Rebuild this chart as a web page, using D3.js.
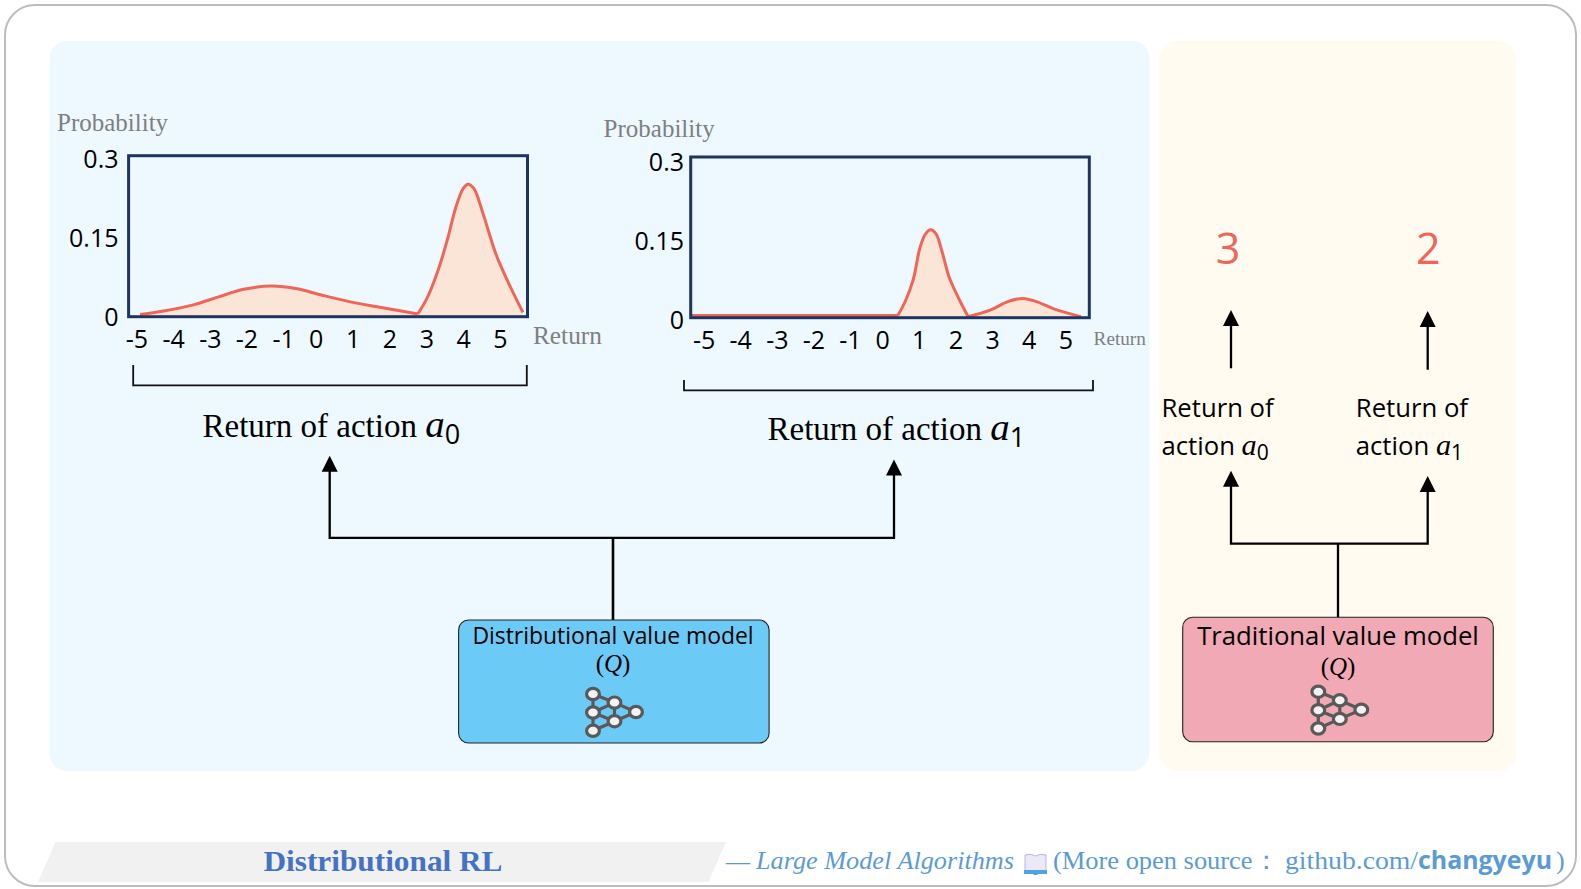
<!DOCTYPE html>
<html><head><meta charset="utf-8">
<script src="https://cdn.jsdelivr.net/npm/d3@7/dist/d3.min.js"></script>
<style>html,body{margin:0;padding:0;background:#fff}svg{display:block}</style>
</head><body><svg id="c" width="1581" height="889"></svg>
<script>
const returnTicks = [-5,-4,-3,-2,-1,0,1,2,3,4,5];
const probTicks = [0,0.15,0.3];
const a0Low = [[-4.9,.004],[-4.21,.011],[-3.43,.022],[-2.74,.037],[-2.05,.051],[-1.27,.057],[-.58,.052],[.11,.04],[.8,.029],[1.58,.019],[2.17,.012],[2.74,.005]];
const a0High = [[2.74,.005],[3.01,.037],[3.3,.087],[3.55,.143],[3.79,.205],[3.99,.239],[4.12,.247],[4.28,.239],[4.53,.193],[4.88,.118],[5.22,.065],[5.63,.008]];
const a1Flat = [[-5.33,.004],[.37,.004]];
const a1High = [[.37,.004],[.59,.033],[.79,.07],[.99,.133],[1.14,.157],[1.27,.164],[1.42,.157],[1.58,.126],[1.78,.077],[2.03,.039],[2.31,.002]];
const a1Low = [[2.31,.002],[2.92,.014],[3.41,.03],[3.83,.036],[4.2,.03],[4.7,.016],[5.43,.002]];
const traditionalValues = ["3","2"];

const svg = d3.select("#c");
const SANS = "'Open Sans'", SERIF = "'Liberation Serif'";
const RED = "#ef6558", NAVY = "#1f3560", GRAY = "#7f7f7f";

svg.append("rect").attr("x",5).attr("y",5).attr("width",1571).attr("height",881).attr("rx",30)
  .attr("fill","#fff").attr("stroke","#bdbdbd").attr("stroke-width",2);
svg.append("rect").attr("x",49.5).attr("y",41).attr("width",1100).attr("height",730).attr("rx",18).attr("fill","#edf9fe");
svg.append("rect").attr("x",1159).attr("y",41).attr("width",357).attr("height",730).attr("rx",18).attr("fill","#fffbf1");

function label(x,y,size,parts,opts={}){
  const t = svg.append("text").attr("x",x).attr("y",y).attr("font-size",size)
    .attr("font-family",opts.family||SANS).attr("fill",opts.fill||"#000")
    .attr("text-anchor",opts.anchor||"start");
  if(opts.width) t.attr("textLength",opts.width).attr("lengthAdjust","spacingAndGlyphs");
  if(opts.weight) t.attr("font-weight",opts.weight);
  if(opts.style) t.attr("font-style",opts.style);
  parts.forEach(p=>{
    const s=t.append("tspan").text(p.t);
    if(p.family) s.attr("font-family",p.family);
    if(p.style) s.attr("font-style",p.style);
    if(p.size) s.attr("font-size",p.size);
    if(p.dy) s.attr("dy",p.dy);
  });
  return t;
}
function actionParts(prefix,sub,size){
  return [{t:prefix},{t:"a",style:"italic",family:SERIF,size:size*1.18},{t:sub,size:size*0.82,dy:size*0.2,family:SANS}];
}

function chart(cfg){
  const g = svg.append("g");
  const x = d3.scaleLinear().domain([-5,5]).range(cfg.xr);
  const y = d3.scaleLinear().domain([0,.3]).range([cfg.y0,cfg.y1]);
  const curve = d3.curveCatmullRom.alpha(0.5);
  const area = d3.area().x(d=>x(d[0])).y0(y(0)).y1(d=>y(d[1])).curve(curve);
  const line = d3.line().x(d=>x(d[0])).y(d=>y(d[1])).curve(curve);
  g.selectAll(".a").data(cfg.segments).join("path").attr("d",area).attr("fill","#fbe5d7");
  g.selectAll(".l").data(cfg.segments).join("path").attr("d",line).attr("fill","none")
    .attr("stroke",RED).attr("stroke-width",3).attr("stroke-linejoin","round");
  g.append("rect").attr("x",cfg.frameX[0]).attr("y",cfg.y1).attr("width",cfg.frameX[1]-cfg.frameX[0])
    .attr("height",cfg.y0-cfg.y1).attr("fill","none").attr("stroke",NAVY).attr("stroke-width",3);
  const xLab = d3.scaleLinear().domain([-5,-1,0,5]).range(cfg.xl);
  const ax = g.append("g").attr("transform",`translate(0,${cfg.xBase})`)
    .call(d3.axisBottom(xLab).tickValues(returnTicks).tickSize(0).tickPadding(0).tickFormat(d=>String(d)));
  ax.select(".domain").remove();
  ax.selectAll("text").attr("font-family",SANS).attr("font-size",25).attr("fill","#000").attr("dy",0).attr("y",0);
  const yLab = d3.scaleLinear().domain([0,.15,.3]).range(cfg.yl);
  const ay = g.append("g").attr("transform",`translate(${cfg.yRight},0)`)
    .call(d3.axisLeft(yLab).tickValues(probTicks).tickSize(0).tickPadding(0).tickFormat(d=>String(d)));
  ay.select(".domain").remove();
  ay.selectAll("text").attr("font-family",SANS).attr("font-size",25).attr("fill","#000").attr("dy",0).attr("x",0);
  label(cfg.prob[0],cfg.prob[1],25,[{t:"Probability"}],{family:SERIF,fill:GRAY});
  label(cfg.ret[0],cfg.ret[1],cfg.ret[2],[{t:"Return"}],{family:SERIF,fill:GRAY});
  svg.append("path").attr("d",`M${cfg.br[0]},${cfg.br[2]}V${cfg.br[3]}H${cfg.br[1]}V${cfg.br[2]}`)
    .attr("fill","none").attr("stroke","#111").attr("stroke-width",1.8);
  label(cfg.title[0],cfg.title[1],33,actionParts("Return of action ",cfg.sub,33),{family:SERIF});
}
chart({segments:[a0Low,a0High],xr:[136.4,500],xl:[136.4,283.2,315.7,500],frameX:[128.6,527.5],y0:316.7,y1:155.7,
  xBase:347.5,yl:[325,246.5,167.5],yRight:118.5,prob:[57,130.7],ret:[533,344,25.3],br:[133.2,526.8,365,385.3],title:[202.5,437],sub:"0"});
chart({segments:[a1Flat,a1High,a1Low],xr:[703.6,1065.4],xl:[703.6,850,882.1,1065.4],frameX:[690.7,1089.3],y0:317.7,y1:157,
  xBase:349,yl:[328,249,170],yRight:684,prob:[603.6,136.7],ret:[1093.6,345,19.2],br:[684,1093,380,390.3],title:[767.5,440],sub:"1"});

function arrow(pts,w){
  const tip = pts[pts.length-1];
  const stem = pts.slice();
  stem[stem.length-1] = [tip[0],tip[1]+14];
  svg.append("path").attr("d",d3.line()(stem)).attr("fill","none").attr("stroke","#000").attr("stroke-width",w||2.3);
  svg.append("path").attr("d",`M${tip[0]},${tip[1]}l8,16h-16z`).attr("fill","#000");
}
arrow([[613,537.8],[329.7,537.8],[329.7,455.7]]);
arrow([[613,537.8],[894,537.8],[894,459.6]]);
svg.append("path").attr("d","M613,537.8V620").attr("stroke","#000").attr("stroke-width",2.6);
arrow([[1338,543.7],[1231,543.7],[1231,470.7]]);
arrow([[1338,543.7],[1427.7,543.7],[1427.7,476]]);
svg.append("path").attr("d","M1338,543.7V617.3").attr("stroke","#000").attr("stroke-width",2.3);
arrow([[1231,368.3],[1231,310]]);
arrow([[1427.7,369.7],[1427.7,311]]);

const netNodes = [[0,0],[0,18.5],[0,36.8],[21.5,8.6],[21.5,27.2],[43,18]];
const netLinks = [[0,1],[1,2],[0,3],[1,3],[1,4],[2,4],[3,4],[3,5],[4,5]];
function modelBox(b){
  svg.append("rect").attr("x",b.x).attr("y",b.y).attr("width",b.w).attr("height",b.h).attr("rx",10)
    .attr("fill",b.fill).attr("stroke","#222").attr("stroke-width",1.1);
  label(b.cx,b.b1,b.size,[{t:b.name}],{anchor:"middle"});
  label(b.cx,b.b2,25,[{t:"(",family:SERIF},{t:"Q",style:"italic",family:SERIF},{t:")",family:SERIF}],{anchor:"middle",family:SERIF});
  const g=svg.append("g").attr("transform",`translate(${b.nx},${b.ny})`);
  g.selectAll("line").data(netLinks).join("line")
    .attr("x1",d=>netNodes[d[0]][0]).attr("y1",d=>netNodes[d[0]][1])
    .attr("x2",d=>netNodes[d[1]][0]).attr("y2",d=>netNodes[d[1]][1])
    .attr("stroke","#595959").attr("stroke-width",3.2);
  g.selectAll("ellipse").data(netNodes).join("ellipse")
    .attr("cx",d=>d[0]).attr("cy",d=>d[1]).attr("rx",6.4).attr("ry",5.6)
    .attr("fill","#f2f2f2").attr("stroke","#595959").attr("stroke-width",3.2);
}
modelBox({x:458.6,y:620,w:310.5,h:123,fill:"#6ccaf6",cx:613,b1:644,b2:672,size:22.9,name:"Distributional value model",nx:593,ny:694});
modelBox({x:1182.7,y:617.3,w:310.6,h:124.4,fill:"#f0a9b5",cx:1338,b1:645,b2:675,size:25.7,name:"Traditional value model",nx:1318.3,ny:691.7});

label(1228,264,43,[{t:traditionalValues[0]}],{anchor:"middle",fill:RED});
label(1428.3,264,43,[{t:traditionalValues[1]}],{anchor:"middle",fill:RED});
label(1161.5,416.7,25.7,[{t:"Return of"}]);
label(1161.5,455,25.7,actionParts("action ","0",25.7));
label(1355.8,416.7,25.7,[{t:"Return of"}]);
label(1355.8,455,25.7,actionParts("action ","1",25.7));

svg.append("path").attr("d","M55.5,842H726L708.5,882H38Z").attr("fill","#f1f1f1");
label(383,871,30,[{t:"Distributional RL"}],{anchor:"middle",family:SERIF,fill:"#4472c4",weight:"bold",width:239});
const BLUE="#5b9bd5";
label(726,870,26,[{t:"—"}],{family:SERIF,fill:BLUE,width:24});
label(756,869,26,[{t:"Large Model Algorithms"}],{family:SERIF,fill:BLUE,style:"italic",width:258});
svg.append("path").attr("d","M1025,855q6,-2 10.5,1q4.5,-3 10.5,-1v16h-21z").attr("fill","#ece8f8").attr("stroke","#a8a8cc").attr("stroke-width",.8);
svg.append("path").attr("d","M1024,870h23v4h-9.5v1h-4v-1h-9.5z").attr("fill","#4fa3e3");
label(1053,869,26,[{t:"(More open source："}],{family:SERIF,fill:BLUE,width:226});
label(1285,869,26,[{t:"github.com/"}],{family:SERIF,fill:BLUE,width:133});
label(1418,869,25,[{t:"changyeyu"}],{family:SANS,fill:BLUE,weight:"bold",width:134});
label(1556,869,26,[{t:")"}],{family:SERIF,fill:BLUE});
</script></body></html>
